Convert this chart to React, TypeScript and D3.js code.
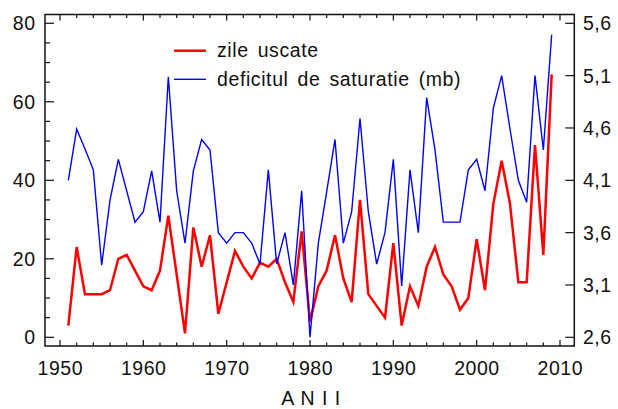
import { FC, useEffect, useRef } from "react";
import * as d3 from "d3";

const years = [
  1951, 1952, 1953, 1954, 1955, 1956, 1957, 1958, 1959, 1960,
  1961, 1962, 1963, 1964, 1965, 1966, 1967, 1968, 1969, 1970,
  1971, 1972, 1973, 1974, 1975, 1976, 1977, 1978, 1979, 1980,
  1981, 1982, 1983, 1984, 1985, 1986, 1987, 1988, 1989, 1990,
  1991, 1992, 1993, 1994, 1995, 1996, 1997, 1998, 1999, 2000,
  2001, 2002, 2003, 2004, 2005, 2006, 2007, 2008, 2009,
];

// zile uscate (left axis)
const zileUscate = [
  3, 23, 11, 11, 11, 12, 20, 21, 17, 13,
  12, 17, 31, 16, 1, 28, 18, 26, 6, 14,
  22, 18, 15, 19, 18, 20, 14, 9, 27, 4,
  13, 17, 26, 15, 9, 35, 11, 8, 5, 24,
  3, 13, 8, 18, 23, 16, 13, 7, 10, 25,
  12, 34, 45, 34, 14, 14, 49, 21, 67,
];

// deficitul de saturatie, mb (right axis)
const deficit = [
  4.1, 4.59, 4.4, 4.2, 3.29, 3.91, 4.3, 4.0, 3.7, 3.8,
  4.19, 3.7, 5.09, 4.0, 3.5, 4.19, 4.49, 4.39, 3.6, 3.5,
  3.6, 3.6, 3.5, 3.3, 4.2, 3.3, 3.6, 3.1, 4.0, 2.6,
  3.5, 3.99, 4.49, 3.5, 3.8, 4.69, 3.8, 3.3, 3.6, 4.3,
  3.09, 4.2, 3.6, 4.89, 4.39, 3.7, 3.7, 3.7, 4.2, 4.3,
  4.0, 4.79, 5.1, 4.59, 4.1, 3.89, 5.1, 4.39, 5.49,
];

const xTicks = [1950, 1960, 1970, 1980, 1990, 2000, 2010];
const leftTicks = [0, 20, 40, 60, 80];
const rightTicks = [2.6, 3.1, 3.6, 4.1, 4.6, 5.1, 5.6];

const seriesNames = ["zile uscate", "deficitul de saturatie (mb)"];
const seriesColors = ["#ff0000", "#0000ff"];

const W = 618, H = 409;
const frame = { left: 45, right: 574.3, top: 14.5, bottom: 346 };
const font = "'Liberation Sans', Arial, sans-serif";

const Chart: FC = () => {
  const ref = useRef<SVGSVGElement>(null);

  useEffect(() => {
    const svg = d3.select(ref.current);
    svg.selectAll("*").remove();

    const x = d3.scaleLinear().domain([1950, 2010]).range([60, 560]);
    const yL = d3.scaleLinear().domain([0, 80]).range([337.3, 23.3]);
    const yR = d3.scaleLinear().domain([2.6, 5.6]).range([337.3, 23.3]);

    svg.append("rect")
      .attr("width", W).attr("height", H).attr("fill", "#fff");

    // lines
    const lineL = d3.line<number>()
      .x((_, i) => x(years[i]))
      .y((d) => yL(d));
    const lineR = d3.line<number>()
      .x((_, i) => x(years[i]))
      .y((d) => yR(d));

    svg.append("path")
      .attr("d", lineL(zileUscate) as string)
      .attr("fill", "none")
      .attr("stroke", seriesColors[0])
      .attr("stroke-width", 2.5)
      .attr("stroke-linejoin", "miter");

    svg.append("path")
      .attr("d", lineR(deficit) as string)
      .attr("fill", "none")
      .attr("stroke", seriesColors[1])
      .attr("stroke-width", 1.4);

    // frame
    const axisColor = "#111";
    svg.append("rect")
      .attr("x", frame.left)
      .attr("y", frame.top)
      .attr("width", frame.right - frame.left)
      .attr("height", frame.bottom - frame.top)
      .attr("fill", "none")
      .attr("stroke", axisColor)
      .attr("stroke-width", 1.5);

    const ticks = svg.append("g").attr("stroke", axisColor).attr("stroke-width", 1.2);

    // x ticks, every 2 years minor, every 10 major (bottom + top)
    d3.range(1950, 2011, 2).forEach((yr) => {
      const len = yr % 10 === 0 ? 6 : 3.5;
      ticks.append("line")
        .attr("x1", x(yr)).attr("x2", x(yr))
        .attr("y1", frame.bottom).attr("y2", frame.bottom - len);
      ticks.append("line")
        .attr("x1", x(yr)).attr("x2", x(yr))
        .attr("y1", frame.top).attr("y2", frame.top + len);
    });

    // left ticks, minor every 5
    d3.range(0, 81, 5).forEach((v) => {
      const len = v % 20 === 0 ? 9 : 5;
      ticks.append("line")
        .attr("x1", frame.left).attr("x2", frame.left + len)
        .attr("y1", yL(v)).attr("y2", yL(v));
    });

    // right ticks
    rightTicks.forEach((v) => {
      ticks.append("line")
        .attr("x1", frame.right).attr("x2", frame.right - 9)
        .attr("y1", yR(v)).attr("y2", yR(v));
    });

    const labels = svg.append("g")
      .attr("font-family", font)
      .attr("font-size", 19.5)
      .attr("letter-spacing", 0.5)
      .attr("fill", "#111");

    leftTicks.forEach((v) => {
      labels.append("text")
        .attr("x", 35.5)
        .attr("y", yL(v))
        .attr("dy", "0.36em")
        .attr("text-anchor", "end")
        .text(v);
    });

    rightTicks.forEach((v) => {
      labels.append("text")
        .attr("x", 583)
        .attr("y", yR(v))
        .attr("dy", "0.36em")
        .attr("text-anchor", "start")
        .text(v.toFixed(1).replace(".", ","));
    });

    xTicks.forEach((v) => {
      labels.append("text")
        .attr("x", x(v) + 0.3)
        .attr("y", 375)
        .attr("text-anchor", "middle")
        .text(v);
    });

    labels.append("text")
      .attr("x", 311)
      .attr("y", 405)
      .attr("text-anchor", "middle")
      .attr("word-spacing", 1)
      .text("A N I I");

    // legend
    seriesNames.forEach((name, i) => {
      const ly = 50.7 + i * 28.6;
      svg.append("line")
        .attr("x1", 174).attr("x2", 206)
        .attr("y1", ly).attr("y2", ly)
        .attr("stroke", seriesColors[i])
        .attr("stroke-width", i === 0 ? 2.5 : 1.4);
      labels.append("text")
        .attr("x", 217)
        .attr("y", ly + 6.7)
        .attr("letter-spacing", 0.6)
        .attr("word-spacing", 3)
        .text(name);
    });
  }, []);

  return <svg ref={ref} width={W} height={H} style={{ display: "block" }} />;
};

export default function App() {
  return (
    <div style={{ position: "absolute", left: 0, top: 0 }}>
      <Chart />
    </div>
  );
}
